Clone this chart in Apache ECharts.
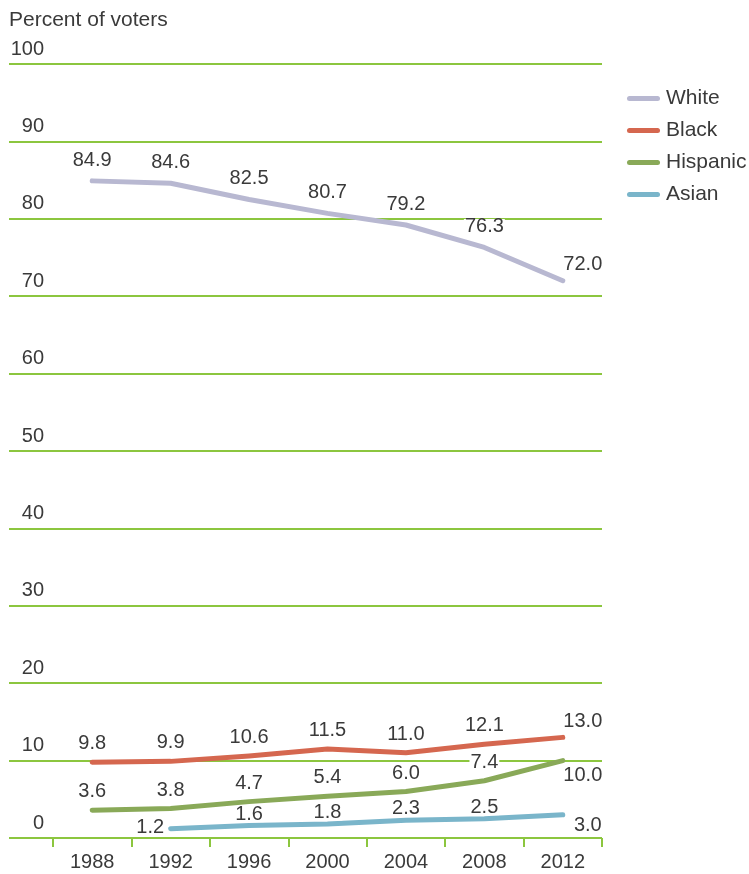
<!DOCTYPE html>
<html>
<head>
<meta charset="utf-8">
<title>Percent of voters by race and ethnicity</title>
<script src="https://cdn.jsdelivr.net/npm/echarts@6/dist/echarts.min.js"></script>
<style>
  html, body { margin: 0; padding: 0; background: #fff; }
  #chart { width: 749px; height: 874px; }
</style>
</head>
<body>
<div id="chart"></div>
<script>
// Election years on the horizontal axis
const years = ['1988', '1992', '1996', '2000', '2004', '2008', '2012'];

// Share of voters (%) by group
const white    = [84.9, 84.6, 82.5, 80.7, 79.2, 76.3, 72.0];
const black    = [9.8, 9.9, 10.6, 11.5, 11.0, 12.1, 13.0];
const hispanic = [3.6, 3.8, 4.7, 5.4, 6.0, 7.4, 10.0];
const asian    = [null, 1.2, 1.6, 1.8, 2.3, 2.5, 3.0];

const seriesNames = ['White', 'Black', 'Hispanic', 'Asian'];
const seriesColors = ['#b8b8d1', '#d5674f', '#89a958', '#7ab5ca'];

const FONT = '"Liberation Sans", Arial, Helvetica, sans-serif';
const TEXT = '#3a3a3a';
const GRID_GREEN = '#8cc63f';

// Label placement overrides for individual points (series index -> point index -> label)
const labelOverrides = {
  0: { 6: { position: 'top', distance: 8, offset: [20, 0] } },
  1: { 6: { position: 'top', distance: 7, offset: [20, 0] } },
  2: { 6: { position: 'bottom', distance: 6, offset: [20, 0] } },
  3: {
    1: { position: 'left', distance: 5, offset: [0, -1] },
    6: { position: 'bottom', distance: 2, offset: [25, 0] }
  }
};
const labelDistance = [12, 10, 10, 3];

function buildData(values, si) {
  return values.map(function (v, i) {
    if (v === null) return null;
    const o = labelOverrides[si] && labelOverrides[si][i];
    return o ? { value: v, label: o } : { value: v };
  });
}

const allValues = [white, black, hispanic, asian];

const series = allValues.map(function (vals, si) {
  return {
    name: seriesNames[si],
    type: 'line',
    xAxisIndex: 1,
    yAxisIndex: 1,
    data: buildData(vals, si),
    symbol: 'circle',
    symbolSize: 1,
    itemStyle: { color: seriesColors[si], opacity: 0 },
    lineStyle: { color: seriesColors[si], width: 5, cap: 'round', join: 'round' },
    connectNulls: false,
    silent: true,
    z: 3,
    label: {
      show: true,
      position: 'top',
      distance: labelDistance[si],
      color: TEXT,
      opacity: 1,
      fontFamily: FONT,
      fontSize: 20,
      lineHeight: 16,
      backgroundColor: '#fff',
      padding: [0, 1],
      formatter: function (p) { return Number(p.value).toFixed(1); }
    }
  };
});

const chart = echarts.init(document.getElementById('chart'), null, { renderer: 'canvas' });

chart.setOption({
  animation: false,
  backgroundColor: '#fff',
  textStyle: { fontFamily: FONT },
  title: {
    text: 'Percent of voters',
    left: 4,
    top: 5,
    textStyle: { fontFamily: FONT, fontSize: 21, fontWeight: 'normal', color: TEXT }
  },
  legend: {
    orient: 'vertical',
    left: 622,
    top: 83,
    itemWidth: 33,
    itemHeight: 5,
    itemGap: 11,
    icon: 'path://M2.5,0 H30.5 A2.5,2.5 0 0 1 30.5,5 H2.5 A2.5,2.5 0 0 1 2.5,0 Z',
    textStyle: { fontFamily: FONT, fontSize: 21, color: TEXT, padding: [0, 0, 0, 1] },
    data: seriesNames.map(function (n, i) {
      return { name: n, itemStyle: { color: seriesColors[i], opacity: 1 } };
    })
  },
  grid: [
    { left: 9, right: 147, top: 64, bottom: 36 },
    { left: 53, right: 147, top: 64, bottom: 36 }
  ],
  xAxis: [
    { gridIndex: 0, type: 'value', show: false, min: 0, max: 1 },
    {
      gridIndex: 1,
      type: 'category',
      data: years,
      boundaryGap: true,
      axisLine: { show: false },
      axisTick: { show: true, alignWithLabel: false, length: 9, lineStyle: { color: GRID_GREEN, width: 2 } },
      axisLabel: { color: TEXT, fontFamily: FONT, fontSize: 20, margin: 14 },
      splitLine: { show: false }
    }
  ],
  yAxis: [
    {
      gridIndex: 0,
      type: 'value',
      min: 0,
      max: 100,
      interval: 10,
      axisLine: { show: false },
      axisTick: { show: false },
      axisLabel: {
        inside: true,
        align: 'right',
        verticalAlign: 'bottom',
        margin: 35,
        lineHeight: 20,
        padding: [0, 0, 5, 0],
        color: TEXT,
        fontFamily: FONT,
        fontSize: 20
      },
      splitLine: { show: true, lineStyle: { color: GRID_GREEN, width: 2 } }
    },
    { gridIndex: 1, type: 'value', min: 0, max: 100, interval: 10, show: false }
  ],
  series: series
});
</script>
</body>
</html>
